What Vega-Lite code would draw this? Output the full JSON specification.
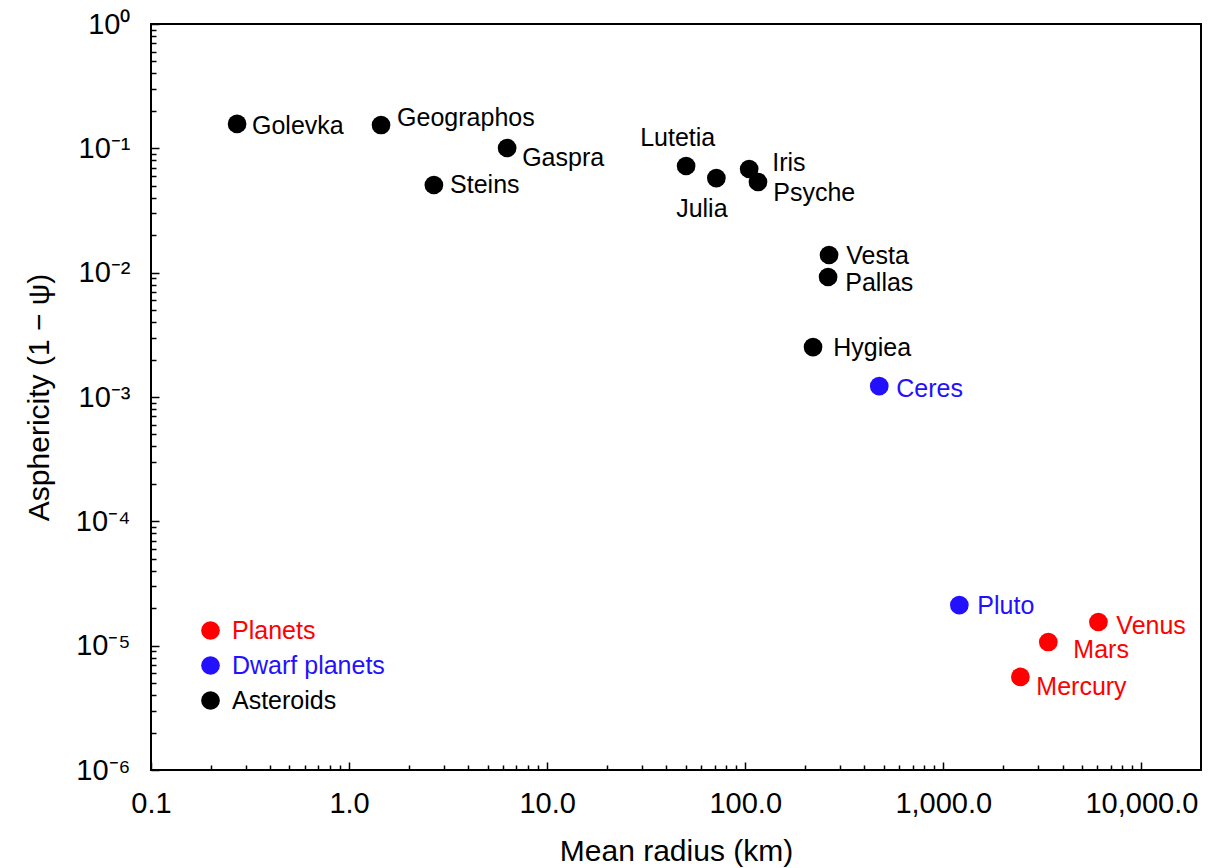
{
  "$schema": "https://vega.github.io/schema/vega-lite/v6.json",
  "width": 1050,
  "height": 746,
  "autosize": {"type": "none"},
  "padding": {"left": 151, "top": 24, "right": 14, "bottom": 98},
  "background": "white",
  "config": {
    "font": "Liberation Sans",
    "view": {"stroke": "black", "strokeWidth": 2},
    "axis": {"grid": false, "domain": false, "tickColor": "black", "labelColor": "black", "titleColor": "black", "titleFontWeight": "normal", "labelFont": "Liberation Sans", "titleFont": "Liberation Sans"}
  },
  "data": {
    "values": [
      {"name": "Golevka", "type": "Asteroids", "radius": 0.272, "asphericity": 0.157, "lx": 0.3236, "ly": 0.1512},
      {"name": "Geographos", "type": "Asteroids", "radius": 1.45, "asphericity": 0.154, "lx": 1.748, "ly": 0.1754},
      {"name": "Steins", "type": "Asteroids", "radius": 2.68, "asphericity": 0.0507, "lx": 3.236, "ly": 0.0507},
      {"name": "Gaspra", "type": "Asteroids", "radius": 6.28, "asphericity": 0.1006, "lx": 7.48, "ly": 0.0836},
      {"name": "Lutetia", "type": "Asteroids", "radius": 50.3, "asphericity": 0.0721, "lx": 29.5, "ly": 0.1211},
      {"name": "Julia", "type": "Asteroids", "radius": 71.5, "asphericity": 0.0577, "lx": 44.8, "ly": 0.0325},
      {"name": "Iris", "type": "Asteroids", "radius": 104.7, "asphericity": 0.0682, "lx": 136.9, "ly": 0.0762},
      {"name": "Psyche", "type": "Asteroids", "radius": 116, "asphericity": 0.0536, "lx": 138.5, "ly": 0.0437},
      {"name": "Vesta", "type": "Asteroids", "radius": 265, "asphericity": 0.01387, "lx": 323.6, "ly": 0.01361},
      {"name": "Pallas", "type": "Asteroids", "radius": 262, "asphericity": 0.00923, "lx": 319.9, "ly": 0.00826},
      {"name": "Hygiea", "type": "Asteroids", "radius": 220, "asphericity": 0.00252, "lx": 278.3, "ly": 0.002477},
      {"name": "Ceres", "type": "Dwarf planets", "radius": 475, "asphericity": 0.001225, "lx": 578.9, "ly": 0.001159},
      {"name": "Pluto", "type": "Dwarf planets", "radius": 1205, "asphericity": 0.0000212, "lx": 1485, "ly": 0.0000208},
      {"name": "Venus", "type": "Planets", "radius": 6070, "asphericity": 0.0000155, "lx": 7475, "ly": 0.0000144},
      {"name": "Mars", "type": "Planets", "radius": 3390, "asphericity": 0.0000107, "lx": 4535, "ly": 0.00000923},
      {"name": "Mercury", "type": "Planets", "radius": 2450, "asphericity": 0.0000056, "lx": 2949, "ly": 0.00000465}
    ]
  },
  "layer": [
    {
      "mark": {"type": "point", "filled": true, "size": 350, "opacity": 1, "shape": "circle"},
      "encoding": {
        "x": {
          "field": "radius", "type": "quantitative",
          "scale": {"type": "log", "domain": [0.1, 20000], "nice": false},
          "axis": {
            "title": "Mean radius (km)",
            "titleFontSize": 30,
            "titlePadding": 15,
            "labelFontSize": 29,
            "labelPadding": 27,
            "labelOverlap": false,
            "labelFlush": false,
            "values": [0.1,0.2,0.3,0.4,0.5,0.6,0.7,0.8,0.9,1,2,3,4,5,6,7,8,9,10,20,30,40,50,60,70,80,90,100,200,300,400,500,600,700,800,900,1000,2000,3000,4000,5000,6000,7000,8000,9000,10000],
            "labelExpr": "abs(log(datum.value)/LN10 - round(log(datum.value)/LN10)) < 0.000001 ? format(datum.value, ',.1f') : ''",
            "tickWidth": 1.5,
            "tickSize": {"condition": {"test": "abs(log(datum.value)/LN10 - round(log(datum.value)/LN10)) < 0.000001", "value": -8}, "value": -5}
          }
        },
        "y": {
          "field": "asphericity", "type": "quantitative",
          "scale": {"type": "log", "domain": [0.000001, 1], "nice": false},
          "axis": {
            "title": "Asphericity (1 − ψ)",
            "titleFontSize": 30,
            "titlePadding": 21,
            "labelFontSize": 29,
            "labelPadding": 29,
            "labelOverlap": false,
            "labelFlush": false,
            "values": [0.000001,0.000002,0.000003,0.000004,0.000005,0.000006,0.000007,0.000008,0.000009,0.00001,0.00002,0.00003,0.00004,0.00005,0.00006,0.00007,0.00008,0.00009,0.0001,0.0002,0.0003,0.0004,0.0005,0.0006,0.0007,0.0008,0.0009,0.001,0.002,0.003,0.004,0.005,0.006,0.007,0.008,0.009,0.01,0.02,0.03,0.04,0.05,0.06,0.07,0.08,0.09,0.1,0.2,0.3,0.4,0.5,0.6,0.7,0.8,0.9,1],
            "labelExpr": "abs(log(datum.value)/LN10 - round(log(datum.value)/LN10)) < 0.000001 ? ['10⁰','10⁻¹','10⁻²','10⁻³','10⁻⁴','10⁻⁵','10⁻⁶'][round(-log(datum.value)/LN10)] : ''",
            "tickWidth": 1.5,
            "tickSize": {"condition": {"test": "abs(log(datum.value)/LN10 - round(log(datum.value)/LN10)) < 0.000001", "value": -8}, "value": -5}
          }
        },
        "color": {
          "field": "type", "type": "nominal",
          "scale": {"domain": ["Planets", "Dwarf planets", "Asteroids"], "range": ["#ff0000", "#2210ff", "#000000"]},
          "legend": {
            "title": null,
            "orient": "none",
            "legendX": 47,
            "legendY": 594,
            "padding": 0,
            "symbolType": "circle",
            "symbolSize": 350,
            "symbolOpacity": 1,
            "symbolStrokeWidth": 0,
            "labelFontSize": 25,
            "labelFont": "Liberation Sans",
            "labelOffset": 9,
            "rowPadding": 9,
            "encode": {"labels": {"update": {"fill": {"scale": "color", "field": "value"}}}}
          }
        }
      }
    },
    {
      "mark": {"type": "text", "align": "left", "baseline": "middle", "fontSize": 25, "font": "Liberation Sans"},
      "encoding": {
        "x": {"field": "lx", "type": "quantitative"},
        "y": {"field": "ly", "type": "quantitative"},
        "text": {"field": "name"},
        "color": {"field": "type", "type": "nominal", "legend": null}
      }
    }
  ]
}
